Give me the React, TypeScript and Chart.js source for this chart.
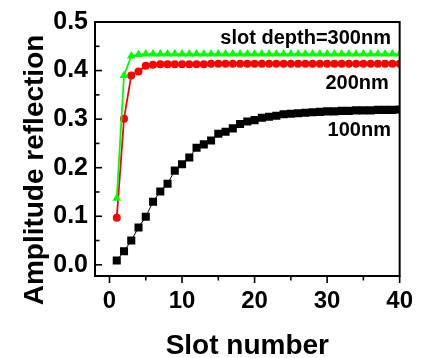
import React, { useEffect, useRef } from "react";
import { Chart, registerables } from "chart.js";

Chart.register(...registerables);

const slotNumbers = [
  1, 2, 3, 4, 5, 6, 7, 8, 9, 10, 11, 12, 13, 14, 15, 16, 17, 18, 19, 20,
  21, 22, 23, 24, 25, 26, 27, 28, 29, 30, 31, 32, 33, 34, 35, 36, 37, 38, 39, 40,
];
const depth100nm = [
  0.009, 0.028, 0.05, 0.077, 0.099, 0.13, 0.151, 0.167, 0.194, 0.207,
  0.221, 0.241, 0.248, 0.256, 0.27, 0.274, 0.281, 0.29, 0.295, 0.298,
  0.303, 0.305, 0.307, 0.31, 0.311, 0.312, 0.313, 0.314, 0.315, 0.316,
  0.316, 0.317, 0.317, 0.318, 0.318, 0.318, 0.319, 0.319, 0.319, 0.32,
];
const depth200nm = [
  0.097, 0.301, 0.39, 0.398, 0.41, 0.412, 0.413, 0.413, 0.413, 0.413,
  0.413, 0.413, 0.413, 0.414, 0.414, 0.414, 0.414, 0.414, 0.414, 0.414,
  0.414, 0.414, 0.414, 0.414, 0.414, 0.414, 0.414, 0.414, 0.414, 0.414,
  0.414, 0.414, 0.414, 0.414, 0.414, 0.414, 0.414, 0.414, 0.414, 0.414,
];
const depth300nm = [
  0.137, 0.39, 0.43, 0.433, 0.434, 0.434, 0.434, 0.434, 0.434, 0.434,
  0.434, 0.434, 0.434, 0.434, 0.434, 0.434, 0.434, 0.434, 0.434, 0.434,
  0.434, 0.434, 0.434, 0.434, 0.434, 0.434, 0.434, 0.434, 0.434, 0.434,
  0.434, 0.434, 0.434, 0.434, 0.434, 0.434, 0.434, 0.434, 0.434, 0.434,
];
const seriesLabels = ["100nm", "200nm", "slot depth=300nm"];
const xTickValues = [0, 5, 10, 15, 20, 25, 30, 35, 40];
const xTickLabels = ["0", "", "10", "", "20", "", "30", "", "40"];
const yTickValues = [0, 0.05, 0.1, 0.15, 0.2, 0.25, 0.3, 0.35, 0.4, 0.45, 0.5];
const yTickLabels = ["0.0", "", "0.1", "", "0.2", "", "0.3", "", "0.4", "", "0.5"];
const xTitle = "Slot number";
const yTitle = "Amplitude reflection";

const FONT = "'Liberation Sans', Arial, Helvetica, sans-serif";

const framePlugin = {
  id: "frame",
  afterDatasetsDraw(chart: any) {
    const { ctx, chartArea: a, scales } = chart;
    ctx.save();
    ctx.strokeStyle = "#000";
    ctx.lineWidth = 2;
    ctx.strokeRect(a.left, a.top, a.right - a.left, a.bottom - a.top);
    ctx.lineWidth = 1.6;
    yTickValues.forEach((v, i) => {
      const y = scales.y.getPixelForValue(v);
      const len = yTickLabels[i] ? 7 : 4.5;
      ctx.beginPath();
      ctx.moveTo(a.left, y);
      ctx.lineTo(a.left + len, y);
      ctx.stroke();
    });
    xTickValues.forEach((v, i) => {
      const x = scales.x.getPixelForValue(v);
      const len = xTickLabels[i] ? 7 : 4.5;
      ctx.beginPath();
      ctx.moveTo(x, a.bottom);
      ctx.lineTo(x, a.bottom + len);
      ctx.stroke();
    });

    // series annotations
    ctx.fillStyle = "#000";
    ctx.font = `bold 20px ${FONT}`;
    ctx.textAlign = "right";
    ctx.textBaseline = "middle";
    const sx = scales.x;
    const sy = scales.y;
    ctx.fillText(seriesLabels[2], sx.getPixelForValue(38.8), sy.getPixelForValue(0.466));
    ctx.fillText(seriesLabels[1], sx.getPixelForValue(38.5), sy.getPixelForValue(0.373));
    ctx.fillText(seriesLabels[0], sx.getPixelForValue(38.8), sy.getPixelForValue(0.276));

    // axis titles
    ctx.textAlign = "center";
    ctx.textBaseline = "alphabetic";
    ctx.font = `bold 28px ${FONT}`;
    ctx.fillText(xTitle, (a.left + a.right) / 2, 354);
    ctx.save();
    ctx.translate(43, 170);
    ctx.rotate(-Math.PI / 2);
    ctx.font = `bold 28px ${FONT}`;
    ctx.fillText(yTitle, 0, 0);
    ctx.restore();
    ctx.restore();
  },
};

export default function App() {
  const ref = useRef<HTMLCanvasElement>(null);
  useEffect(() => {
    if (!ref.current) return;
    const chart = new Chart(ref.current, {
      type: "line",
      data: {
        datasets: [
          {
            label: seriesLabels[2],
            data: slotNumbers.map((x, i) => ({ x, y: depth300nm[i] })),
            borderColor: "#00ff00",
            backgroundColor: "#00ff00",
            borderWidth: 1.8,
            pointStyle: "triangle",
            pointRadius: 5,
            pointBorderWidth: 0,
            clip: 0,
          },
          {
            label: seriesLabels[1],
            data: slotNumbers.map((x, i) => ({ x, y: depth200nm[i] })),
            borderColor: "#ff0000",
            backgroundColor: "#ff0000",
            borderWidth: 1.8,
            pointStyle: "circle",
            pointRadius: 4,
            pointBorderWidth: 0,
            clip: 0,
          },
          {
            label: seriesLabels[0],
            data: slotNumbers.map((x, i) => ({ x, y: depth100nm[i] })),
            borderColor: "#000000",
            backgroundColor: "#000000",
            borderWidth: 1,
            pointStyle: "rect",
            pointRadius: 5.7,
            pointBorderWidth: 0,
            clip: 0,
          },
        ],
      } as any,
      options: {
        animation: false,
        responsive: false,
        events: [],
        layout: { padding: { left: 0, top: 15, right: 21, bottom: 0 } },
        plugins: { legend: { display: false }, tooltip: { enabled: false } },
        scales: {
          x: {
            type: "linear",
            min: -2,
            max: 40,
            afterBuildTicks: (s: any) => {
              s.ticks = xTickValues.map((v) => ({ value: v }));
            },
            afterFit: (s: any) => {
              s.height = 82;
            },
            grid: { display: false, drawTicks: false },
            border: { display: false },
            ticks: {
              autoSkip: false,
              maxRotation: 0,
              padding: 11,
              color: "#000",
              font: { family: FONT, size: 24, weight: "bold" },
              callback: (v: any, i: number) => xTickLabels[i],
            },
          },
          y: {
            type: "linear",
            min: -0.023,
            max: 0.5,
            afterBuildTicks: (s: any) => {
              s.ticks = yTickValues.map((v) => ({ value: v }));
            },
            afterFit: (s: any) => {
              s.width = 95;
            },
            grid: { display: false, drawTicks: false },
            border: { display: false },
            ticks: {
              autoSkip: false,
              padding: 7,
              color: "#000",
              font: { family: FONT, size: 25, weight: "bold" },
              callback: (v: any, i: number) => yTickLabels[i],
            },
          },
        },
      } as any,
      plugins: [framePlugin],
    });
    return () => chart.destroy();
  }, []);
  return (
    <div style={{ position: "fixed", left: 0, top: 0, width: 424, height: 358, background: "#fff" }}>
      <canvas ref={ref} width={424} height={358} style={{ width: 424, height: 358 }} />
    </div>
  );
}
